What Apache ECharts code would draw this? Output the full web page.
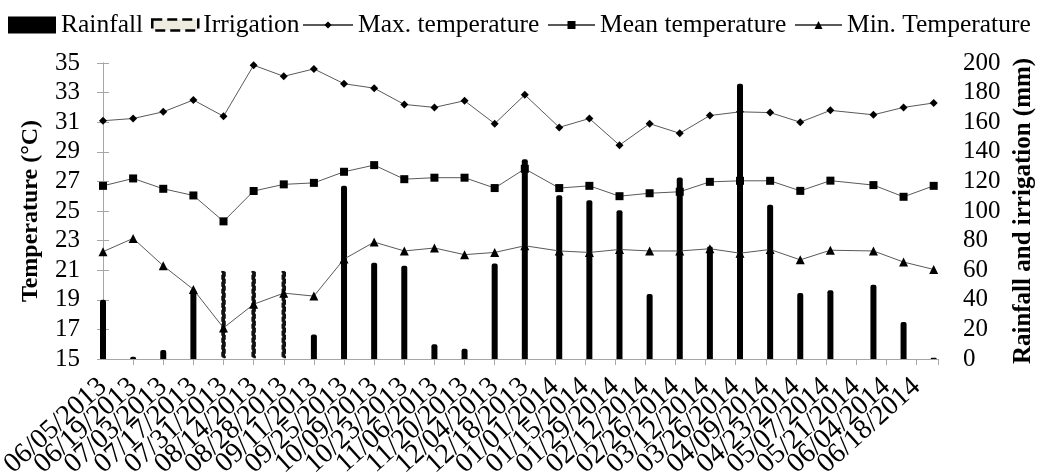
<!DOCTYPE html>
<html>
<head>
<meta charset="UTF-8">
<script src="https://cdn.jsdelivr.net/npm/echarts@6/dist/echarts.min.js"></script>
<title></title>
<style>
	html, body {
		margin: 0;
		padding: 0;
		background: #fff;
	}

	#main {
		width: 1037px;
		height: 474px;
	}
</style>
</head>

<body>
	<div id="main"></div>
</body>
<script type="text/javascript">
	// sampling dates of the records
	var dates = ['06/05/2013', '06/19/2013', '07/03/2013', '07/17/2013', '07/31/2013', '08/14/2013', '08/28/2013',
		'09/11/2013', '09/25/2013', '10/09/2013', '10/23/2013', '11/06/2013', '11/20/2013', '12/04/2013',
		'12/18/2013', '01/03/2014', '01/17/2014', '01/31/2014', '02/14/2014', '02/28/2014', '03/14/2014',
		'03/28/2014', '04/11/2014', '04/25/2014', '05/09/2014', '05/29/2014', '06/12/2014', '06/26/2014'];

	// mm
	var rainfall = [40, 1.5, 6, 47, 0, 0, 0, 16.5, 117, 65, 63, 10, 7, 64.5,
		135, 110.7, 107.3, 100.5, 44, 122.7, 76, 186, 104.3, 44.6, 46.4, 50.2, 25, 0.8];
	var irrigation = [null, null, null, null, 60, 60, 60, null, null, null, null, null, null, null,
		null, null, null, null, null, null, null, null, null, null, null, null, null, null];

	// °C
	var maxTemp = [31.1, 31.25, 31.7, 32.5, 31.4, 34.85, 34.1, 34.6, 33.6, 33.3, 32.2, 32.0, 32.45, 30.9,
		32.85, 30.65, 31.25, 29.45, 30.9, 30.25, 31.45, 31.7, 31.65, 31.0, 31.8, 31.5, 32.0, 32.3];
	var meanTemp = [26.7, 27.2, 26.5, 26.05, 24.3, 26.35, 26.8, 26.9, 27.65, 28.1, 27.15, 27.25, 27.25, 26.55,
		27.85, 26.55, 26.7, 26.0, 26.2, 26.3, 26.97, 27.04, 27.04, 26.36, 27.05, 26.75, 25.96, 26.7];
	var minTemp = [22.25, 23.15, 21.3, 19.7, 17.1, 18.7, 19.45, 19.25, 21.75, 22.9, 22.3, 22.5, 22.05, 22.2,
		22.65, 22.3, 22.2, 22.4, 22.3, 22.3, 22.45, 22.15, 22.4, 21.7, 22.35, 22.3, 21.55, 21.05];

	// x axis labels, one every 14 days
	var tickLabels = ['06/05/2013', '06/19/2013', '07/03/2013', '07/17/2013', '07/31/2013', '08/14/2013',
		'08/28/2013', '09/11/2013', '09/25/2013', '10/09/2013', '10/23/2013', '11/06/2013', '11/20/2013',
		'12/04/2013', '12/18/2013', '01/01/2014', '01/15/2014', '01/29/2014', '02/12/2014', '02/26/2014',
		'03/12/2014', '03/26/2014', '04/09/2014', '04/23/2014', '05/07/2014', '05/21/2014', '06/04/2014',
		'06/18/2014'];
	var tickStep = 14;
	var axisEndDay = 388;

	var font = "'Liberation Serif', 'Times New Roman', serif";

	// days since the first date
	function dayOf(str) {
		var p = str.split('/');
		var t0 = Date.UTC(2013, 5, 5);
		return Math.round((Date.UTC(+p[2], +p[0] - 1, +p[1]) - t0) / 86400000);
	}

	function pairs(values) {
		var out = [];
		for (let i = 0; i < dates.length; i++) {
			out.push([dayOf(dates[i]), values[i]]);
		}
		return out;
	}

	// one legend per entry so each can sit where it does in the original
	function legendAt(name, left, w, h, extra) {
		var l = {
			data: [name],
			left: left,
			top: 7,
			itemWidth: w,
			itemHeight: h,
			textStyle: { fontFamily: font, fontSize: 25.5, color: '#000' }
		};
		if (extra) {
			for (var k in extra) l[k] = extra[k];
		}
		return l;
	}

	// rotated date labels overlap their neighbours, echarts would drop one of the
	// first two, so the first label lives on a second (otherwise invisible) axis
	function dateAxis(onlyFirst) {
		return {
			type: 'value',
			position: 'bottom',
			min: 0,
			max: axisEndDay,
			interval: tickStep,
			splitLine: { show: false },
			axisLine: { show: !onlyFirst, lineStyle: { color: axisGrey } },
			axisTick: { show: !onlyFirst, length: 6, lineStyle: { color: axisGrey } },
			axisLabel: {
				rotate: 42,
				margin: 24,
				showMinLabel: onlyFirst,
				hideOverlap: false,
				fontFamily: font,
				fontSize: 28,
				color: '#000',
				formatter: function (v) {
					if (v % tickStep !== 0) return '';
					if (onlyFirst && v !== 0) return '';
					return tickLabels[v / tickStep] || '';
				}
			}
		};
	}

	var lineGrey = '#595959';
	var axisGrey = '#a6a6a6';

	var myChart = echarts.init(document.getElementById('main'));

	myChart.setOption({
		animation: false,
		backgroundColor: '#fff',
		legend: [
			legendAt('Rainfall', 3, 48, 17, { icon: 'rect' }),
			legendAt('Irrigation', 146, 46, 11, {
				icon: 'rect',
				itemStyle: { color: '#eeebe0', borderColor: '#000', borderWidth: 2.5, borderType: 'dashed' }
			}),
			legendAt('Max. temperature', 297, 50, 9),
			legendAt('Mean temperature', 542, 47, 10),
			legendAt('Min. Temperature', 789, 47, 10)
		],
		grid: {
			left: 103,
			right: 99,
			top: 63,
			bottom: 115,
			outerBoundsMode: 'none'
		},
		xAxis: [dateAxis(false), dateAxis(true)],
		yAxis: [
			{
				type: 'value',
				min: 15,
				max: 35,
				interval: 2,
				name: 'Temperature (°C)',
				nameLocation: 'middle',
				nameRotate: 90,
				nameGap: 60,
				nameTextStyle: { fontFamily: font, fontSize: 24, fontWeight: 'bold', color: '#000' },
				splitLine: { show: false },
				axisLine: { show: true, lineStyle: { color: axisGrey } },
				axisTick: { show: true, length: 6, lineStyle: { color: axisGrey } },
				axisLabel: { margin: 23, fontFamily: font, fontSize: 25, color: '#000' }
			},
			{
				type: 'value',
				min: 0,
				max: 200,
				interval: 20,
				position: 'right',
				name: 'Rainfall and irrigation (mm)',
				nameLocation: 'middle',
				nameRotate: 90,
				nameGap: 71,
				nameTextStyle: { fontFamily: font, fontSize: 25, fontWeight: 'bold', color: '#000' },
				splitLine: { show: false },
				axisLine: { show: true, lineStyle: { color: axisGrey } },
				axisTick: { show: true, length: 6, lineStyle: { color: axisGrey } },
				axisLabel: { margin: 25, fontFamily: font, fontSize: 25, color: '#000' }
			}
		],
		series: [
			{
				name: 'Rainfall',
				type: 'bar',
				yAxisIndex: 1,
				barWidth: 6,
				barGap: '-100%',
				itemStyle: { color: '#000', borderRadius: [2, 2, 0, 0] },
				data: pairs(rainfall)
			},
			{
				// thin bars: the dashed outline shows as notches on a dark bar
				name: 'Irrigation',
				type: 'bar',
				yAxisIndex: 1,
				barWidth: 6,
				barGap: '-100%',
				itemStyle: { color: '#111', borderColor: '#fff', borderWidth: 1.5, borderType: [2, 5] },
				data: pairs(irrigation)
			},
			{
				name: 'Max. temperature',
				type: 'line',
				symbol: 'diamond',
				symbolSize: 8,
				lineStyle: { color: lineGrey, width: 1 },
				itemStyle: { color: '#000' },
				data: pairs(maxTemp)
			},
			{
				name: 'Mean temperature',
				type: 'line',
				symbol: 'rect',
				symbolSize: 8,
				lineStyle: { color: lineGrey, width: 1 },
				itemStyle: { color: '#000' },
				data: pairs(meanTemp)
			},
			{
				name: 'Min. Temperature',
				type: 'line',
				symbol: 'triangle',
				symbolSize: 9,
				lineStyle: { color: lineGrey, width: 1 },
				itemStyle: { color: '#000' },
				data: pairs(minTemp)
			}
		]
	});
</script>

</html>
